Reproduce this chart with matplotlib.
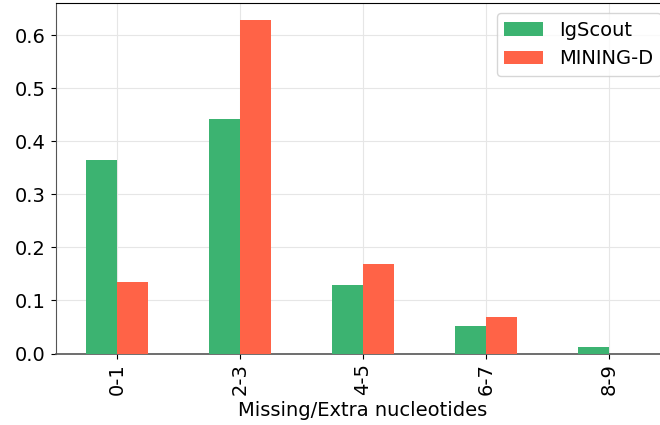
import matplotlib
matplotlib.use("Agg")
import matplotlib.pyplot as plt
import numpy as np

categories = ["0-1", "2-3", "4-5", "6-7", "8-9"]
igscout = [0.364, 0.442, 0.129, 0.052, 0.013]
mining_d = [0.135, 0.629, 0.169, 0.068, 0.0]

fig = plt.figure(figsize=(6.6, 4.25), dpi=100)
ax = fig.add_axes([55.5 / 660, 71.5 / 425, 615 / 660, 350.5 / 425])

x = np.arange(len(categories))
w = 0.25
ax.bar(x - w / 2, igscout, width=w, color="#3cb371", label="IgScout", zorder=3)
ax.bar(x + w / 2, mining_d, width=w, color="#ff6347", label="MINING-D", zorder=3)

ax.set_xlim(-0.5, len(categories) - 0.5)
ax.set_ylim(0, 0.661)
ax.set_xticks(x)
ax.set_xticklabels(categories, rotation=90)
ax.set_yticks(np.arange(0, 0.61, 0.1))
ax.set_yticklabels([f"{v:.1f}" for v in np.arange(0, 0.61, 0.1)])
ax.tick_params(labelsize=14)
ax.set_xlabel("Missing/Extra nucleotides", fontsize=14, labelpad=4)

ax.grid(True, color="#e6e6e6", linewidth=0.8, zorder=0)
ax.set_axisbelow(True)
for s in ("left", "bottom"):
    ax.spines[s].set_color("#555555")
ax.spines["bottom"].set_linewidth(1.2)
ax.spines["top"].set_color("black")

ax.legend(loc="upper right", fontsize=14)

fig.savefig("out.png", dpi=100)
